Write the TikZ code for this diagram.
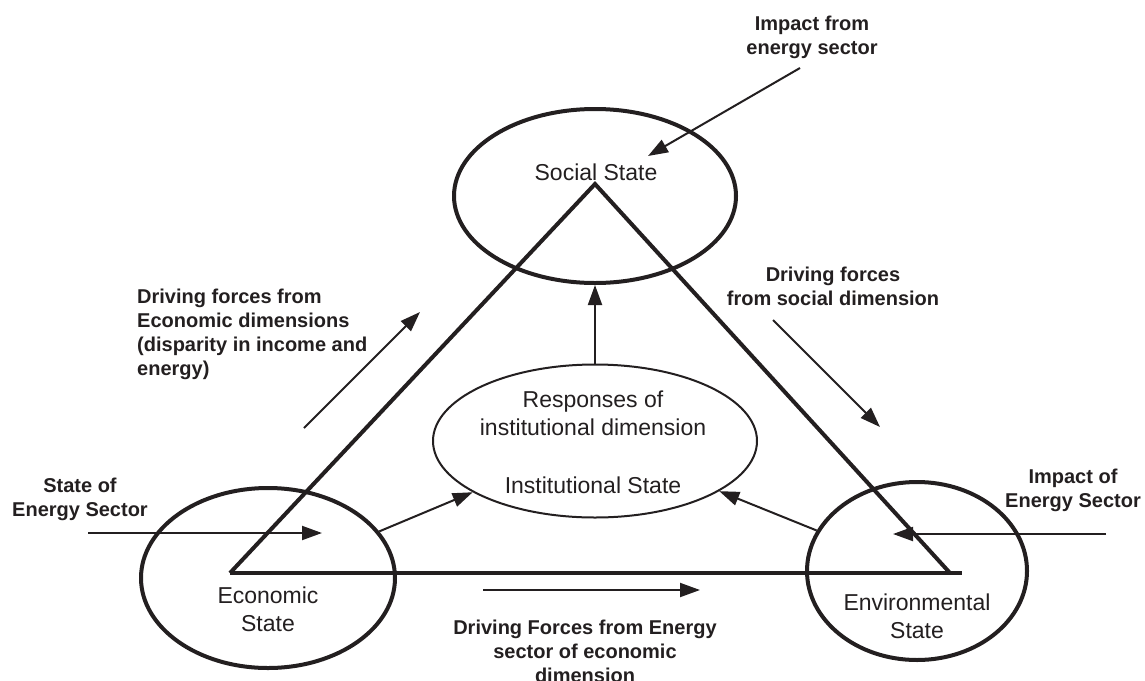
\documentclass[tikz,border=0pt]{standalone}
\usepackage{fontspec}
\setmainfont{Liberation Sans}
\usetikzlibrary{shapes.geometric,arrows.meta}
\definecolor{ink}{HTML}{231F20}
\begin{document}
\begin{tikzpicture}[x=1pt,y=-1pt,
  every node/.style={text=ink, inner sep=0pt},
  bigell/.style={draw=ink, ellipse, line width=4pt, inner sep=0pt},
  smallell/.style={draw=ink, ellipse, line width=2pt, inner sep=0pt},
  normtext/.style={font=\fontsize{23}{28}\selectfont, align=center},
  boldtext/.style={font=\fontsize{20}{24}\selectfont\bfseries, align=center},
  tri/.style={draw=ink, line width=4pt, line join=miter},
  arr/.style={draw=ink, line width=2pt, -{Triangle[length=20pt,width=14pt]}},
]
\useasboundingbox (0,0) rectangle (1145,680);

% ellipses
\node[bigell, minimum width=282pt, minimum height=174pt] (social) at (595,196) {};
\node[bigell, minimum width=254pt, minimum height=180pt] (econ) at (268,578) {};
\node[bigell, minimum width=220pt, minimum height=178pt] (env) at (917,571) {};
\node[smallell, minimum width=324pt, minimum height=153pt] (inst) at (595,441) {};

% triangle
\coordinate (apex) at (595,184);
\coordinate (vl) at (230,573);
\coordinate (vr) at (950,573);
\coordinate (vrx) at (962,573);
\draw[tri] (vl) -- (apex) -- (vr);
\draw[tri] (vl) -- (vrx);

% texts inside ellipses
\node[normtext] (socialtxt) at (596,172) {Social State};
\node[normtext] (econtxt) at (268,609) {Economic\\State};
\node[normtext] (envtxt) at (917,616) {Environmental\\State};
\node[normtext] (insttxt) at (593,413) {Responses of\\institutional dimension};
\node[normtext] (inststate) at (593,485) {Institutional State};

% inner arrows
\draw[arr] (inst) -- (social);
\draw[arr] (econ) -- (inst);
\draw[arr] (env) -- (inst);

% outer arrows
\coordinate (t1) at (800,68);
\coordinate (t2) at (648,156);
\draw[arr] (t1) -- (t2);
\coordinate (l1) at (304,428);
\coordinate (l2) at (420,312);
\draw[arr] (l1) -- (l2);
\coordinate (r1) at (773,320);
\coordinate (r2) at (880,427);
\draw[arr] (r1) -- (r2);
\coordinate (s1) at (88,533);
\coordinate (s2) at (322,533);
\draw[arr] (s1) -- (s2);
\coordinate (e1) at (1106,534);
\coordinate (e2) at (893,534);
\draw[arr] (e1) -- (e2);
\coordinate (b1) at (483,590);
\coordinate (b2) at (700,590);
\draw[arr] (b1) -- (b2);

% labels
\node[boldtext] (lbltop) at (812,37) {Impact from\\energy sector};
\node[boldtext, align=left, anchor=west] (lblleft) at (137,334) {Driving forces from\\Economic dimensions\\(disparity in income and\\energy)};
\node[boldtext] (lblright) at (833,286) {Driving forces\\from social dimension};
\node[boldtext] (lblstate) at (80,499) {State of\\Energy Sector};
\node[boldtext] (lblimpact) at (1073,490) {Impact of\\Energy Sector};
\node[boldtext] (lblbottom) at (585,651) {Driving Forces from Energy\\sector of economic\\dimension};
\end{tikzpicture}
\end{document}
